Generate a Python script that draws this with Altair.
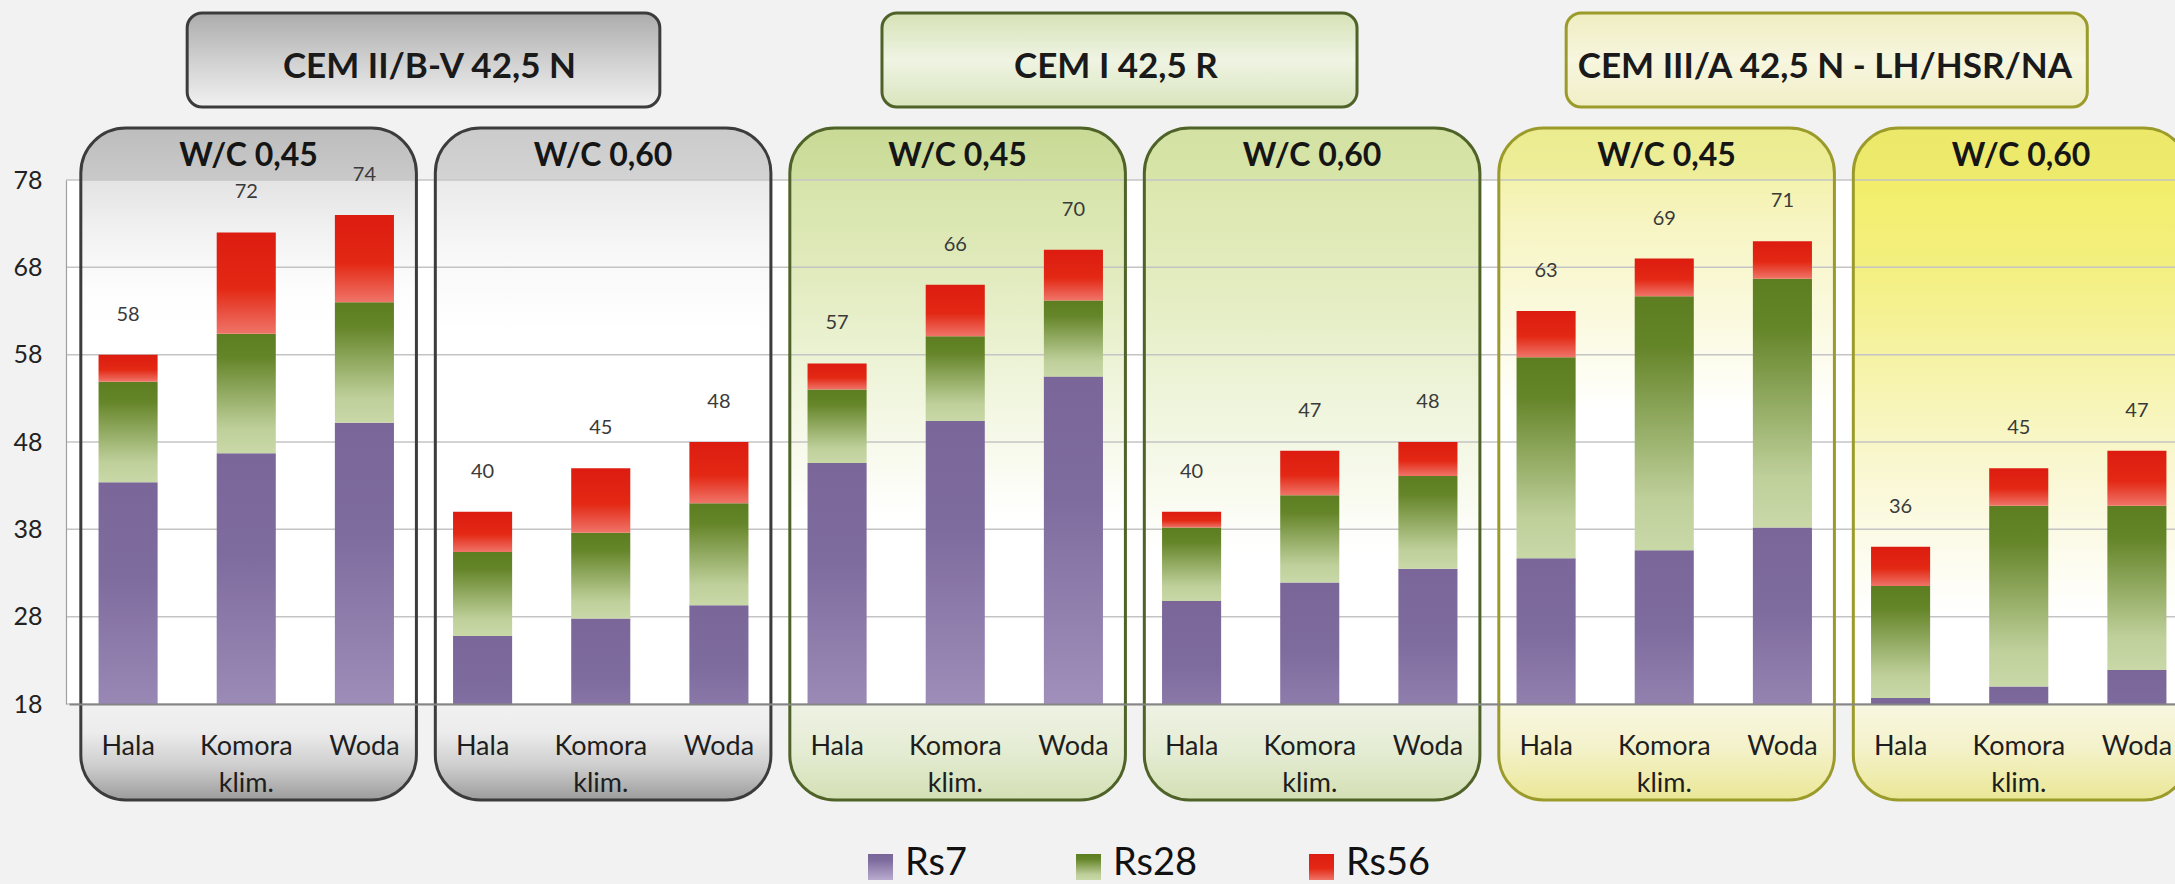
import altair as alt
import pandas as pd

# ---------------------------------------------------------------- data
cements = ["CEM II/B-V 42,5 N", "CEM I 42,5 R", "CEM III/A 42,5 N - LH/HSR/NA"]
ratios = ["W/C 0,45", "W/C 0,60"]
places = ["Hala", "Komora klim.", "Woda"]

# strength after 7, 28 and 56 days (cumulative), one value per bar
rs7 = [43.4, 46.7, 50.2, 25.8, 27.8, 29.3,
       45.6, 50.4, 55.5, 29.8, 31.9, 33.5,
       34.7, 35.6, 38.2, 18.7, 20.0, 21.9]
rs28 = [54.9, 60.4, 64.0, 35.4, 37.6, 41.0,
        54.0, 60.1, 64.2, 38.2, 41.9, 44.1,
        57.7, 64.7, 66.7, 31.5, 40.7, 40.7]
rs56 = [58, 72, 74, 40, 45, 48,
        57, 66, 70, 40, 47, 48,
        63, 69, 71, 36, 45, 47]

y_ticks = [18, 28, 38, 48, 58, 68, 78]
series = ["Rs7", "Rs28", "Rs56"]

# ---------------------------------------------------------------- tables
rows = []
for c in cements:
    for r in ratios:
        for p in places:
            i = len(rows)
            rows.append(dict(key=f"{c}|{r}|{p}", cement=c, ratio=r, place=p,
                             rs7=rs7[i], rs28=rs28[i], rs56=rs56[i]))
bars = pd.DataFrame(rows)
keys = list(bars["key"])

panel_rows = []
for ci, c in enumerate(cements):
    for ri, r in enumerate(ratios):
        k = 2 * ci + ri
        panel_rows.append(dict(k=k, cement=c, ratio=r,
                               x0=3 * k + 0.10, x1=3 * k + 2.94, xm=3 * k + 1.52))
panels = pd.DataFrame(panel_rows)

# layout of the cement header boxes, in category units
HEADER_SPANS = [(1.0, 5.0), (6.88, 10.9), (12.67, 17.08)]
HEADER_TEXT_X = [3.05, 8.86, 14.86]
headers = pd.DataFrame(dict(
    k=[0, 1, 2], cement=cements,
    x0=[s[0] for s in HEADER_SPANS], x1=[s[1] for s in HEADER_SPANS],
    xm=HEADER_TEXT_X))

# ---------------------------------------------------------------- styles
FONT = "Lato"
X_RANGE = [3, 2130]
Y_SCALE = alt.Scale(domain=[18, 78], nice=False, zero=False)
EDGE = ["#3c3c3c", "#4f6228", "#9b9b2b"]


def grad(stops):
    return alt.LinearGradient(
        gradient="linear",
        stops=[alt.GradientStop(offset=o, color=c) for o, c in stops],
        x1=0, x2=0, y1=0, y2=1)


BOTTOM_GRAY = [(0.855, "#ffffff"), (0.858, "#f1f1f1"), (0.9, "#ececec"),
               (0.95, "#cdcdcd"), (1, "#9c9c9c")]
BOTTOM_GREEN = [(0.855, "#ffffff"), (0.858, "#eef2e3"), (0.92, "#e6edd6"),
                (1, "#d3e0b4")]
BOTTOM_YELLOW = [(0.855, "#ffffff"), (0.858, "#f8f7e0"), (0.92, "#f4f2cc"),
                 (1, "#ebe796")]

PANEL_FILLS = [
    [(0, "#bdbdbd"), (0.076, "#c9c9c9"), (0.078, "#e3e3e3"), (0.15, "#f1f1f1"),
     (0.24, "#fdfdfd"), (0.3, "#ffffff")] + BOTTOM_GRAY,
    [(0, "#cbcbcb"), (0.076, "#d3d3d3"), (0.078, "#eaeaea"), (0.18, "#f7f7f7"),
     (0.3, "#ffffff")] + BOTTOM_GRAY,
    [(0, "#c9da97"), (0.076, "#cfdf9f"), (0.078, "#d6e4aa"), (0.2, "#e0eabb"),
     (0.35, "#edf3d6"), (0.5, "#f9fbf0"), (0.58, "#ffffff")] + BOTTOM_GREEN,
    [(0, "#d3e2a3"), (0.076, "#d7e5a8"), (0.078, "#dbe7ae"), (0.25, "#e4edc2"),
     (0.4, "#eef4da"), (0.55, "#f9fbf0"), (0.63, "#ffffff")] + BOTTOM_GREEN,
    [(0, "#ebeb8e"), (0.076, "#eeee9c"), (0.078, "#f4f2ae"), (0.15, "#f7f5c4"),
     (0.3, "#fbfae2"), (0.42, "#ffffff")] + BOTTOM_YELLOW,
    [(0, "#ece86a"), (0.076, "#eeea6c"), (0.078, "#f2ee6a"), (0.2, "#f3ef7e"),
     (0.35, "#f6f3a8"), (0.5, "#f9f7cf"), (0.62, "#fcfbea"),
     (0.72, "#ffffff")] + BOTTOM_YELLOW,
]
HEADER_FILLS = [
    [(0, "#acacac"), (0.5, "#d0d0d0"), (1, "#f1f1f1")],
    [(0, "#d6e2b6"), (0.5, "#eff4e3"), (1, "#d9e5bd")],
    [(0, "#efedc0"), (0.5, "#f7f6df"), (1, "#f1efc6")],
]
SERIES_FILLS = [
    [(0, "#7a6699"), (0.25, "#7f6c9f"), (1, "#b9abcf")],
    [(0, "#5d7d21"), (0.2, "#658529"), (0.8, "#bfd09b"), (1, "#c9d8a7")],
    [(0, "#dc1c10"), (0.55, "#e32814"), (1, "#ef7468")],
]

x_axis = alt.Axis(
    title=None, labelExpr="split(split(datum.value, '|')[2], ' ')",
    labelFont=FONT, labelFontSize=27, labelColor="#1e1e1e", labelLineHeight=37,
    labelPadding=29, labelAngle=0, labelOverlap=False, labelFlush=False,
    ticks=False, tickSize=0, grid=False, domainColor="#858585", domainWidth=2,
    zindex=1)
y_axis = alt.Axis(
    title=None, values=y_ticks, labelFont=FONT, labelFontSize=25,
    labelColor="#222222", labelPadding=24, ticks=False, tickSize=0, grid=False,
    domainColor="#a0a0a0", domainWidth=1.2, zindex=1)


def qx(field):
    return alt.X(f"{field}:Q", scale=alt.Scale(domain=[0, 18], range=X_RANGE), axis=None)


def bx(axis=None):
    return alt.X("key:N", sort=keys, axis=axis,
                 scale=alt.Scale(range=X_RANGE, paddingInner=0.5, paddingOuter=0.25))


def qy(field):
    return alt.Y(f"{field}:Q", scale=Y_SCALE, axis=y_axis)


layers = []

# rounded panel backgrounds (one per cement / W/C combination)
for k in range(6):
    layers.append(
        alt.Chart(panels).transform_filter(alt.datum.k == k)
        .mark_rect(cornerRadius=45, color=grad(PANEL_FILLS[k]))
        .encode(x=qx("x0"), x2="x1", y=alt.value(-52), y2=alt.value(620)))

# horizontal gridlines
layers.append(
    alt.Chart(pd.DataFrame({"v": y_ticks}))
    .mark_rule(color="#c4c4c4", strokeWidth=1.5)
    .encode(y=qy("v")))

# panel outlines
layers.append(
    alt.Chart(panels)
    .mark_rect(cornerRadius=45, fillOpacity=0, strokeWidth=3)
    .encode(x=qx("x0"), x2="x1", y=alt.value(-52), y2=alt.value(620),
            stroke=alt.Stroke("cement:N", scale=alt.Scale(domain=cements, range=EDGE),
                              legend=None)))

# stacked strength bars
layers.append(
    alt.Chart(bars).mark_bar(color=grad(SERIES_FILLS[0]), clip=True)
    .encode(x=bx(x_axis), y=qy("rs7"), y2=alt.datum(0)))
layers.append(
    alt.Chart(bars).mark_bar(color=grad(SERIES_FILLS[1]), clip=True)
    .encode(x=bx(), y=qy("rs28"), y2="rs7"))
layers.append(
    alt.Chart(bars).mark_bar(color=grad(SERIES_FILLS[2]), clip=True)
    .encode(x=bx(), y=qy("rs56"), y2="rs28"))

# total (56-day) values above the bars
layers.append(
    alt.Chart(bars)
    .mark_text(font=FONT, fontSize=20, color="#3a3a3a", baseline="middle", dy=-40)
    .encode(x=bx(), y=qy("rs56"), text=alt.Text("rs56:Q", format=".0f")))

# W/C captions in the panel heads
layers.append(
    alt.Chart(panels)
    .mark_text(font=FONT, fontSize=32, fontWeight="bold", color="#151515",
               baseline="alphabetic")
    .encode(x=qx("xm"), y=alt.value(-14), text="ratio:N"))

# cement header boxes
for k in range(3):
    layers.append(
        alt.Chart(headers).transform_filter(alt.datum.k == k)
        .mark_rect(cornerRadius=15, color=grad(HEADER_FILLS[k]),
                   stroke=EDGE[k], strokeWidth=3)
        .encode(x=qx("x0"), x2="x1", y=alt.value(-167), y2=alt.value(-73)))
layers.append(
    alt.Chart(headers)
    .mark_text(font=FONT, fontSize=35, fontWeight="bold", color="#1a1a1a",
               baseline="alphabetic")
    .encode(x=qx("xm"), y=alt.value(-102), text="cement:N"))

# legend
LEGEND_X = [802, 1010, 1243]
for s, lx, fill in zip(series, LEGEND_X, SERIES_FILLS):
    item = alt.Chart(pd.DataFrame({"name": [s]}))
    layers.append(item.mark_rect(color=grad(fill)).encode(
        x=alt.value(lx), x2=alt.value(lx + 25), y=alt.value(674), y2=alt.value(700)))
    layers.append(item.mark_text(font=FONT, fontSize=38, color="#111111",
                                 align="left", baseline="alphabetic").encode(
        x=alt.value(lx + 37), y=alt.value(695), text="name:N"))

chart = (
    alt.layer(*layers)
    .resolve_scale(x="independent")
    .properties(width=2109, height=524,
                autosize=alt.AutoSizeParams(type="none"),
                padding={"left": 66, "top": 180, "right": 0, "bottom": 180})
    .configure(background="#f2f2f2", font=FONT)
    .configure_view(fill="white", strokeWidth=0)
)

chart.save("out.html", embed_options={"renderer": "svg", "actions": False})
